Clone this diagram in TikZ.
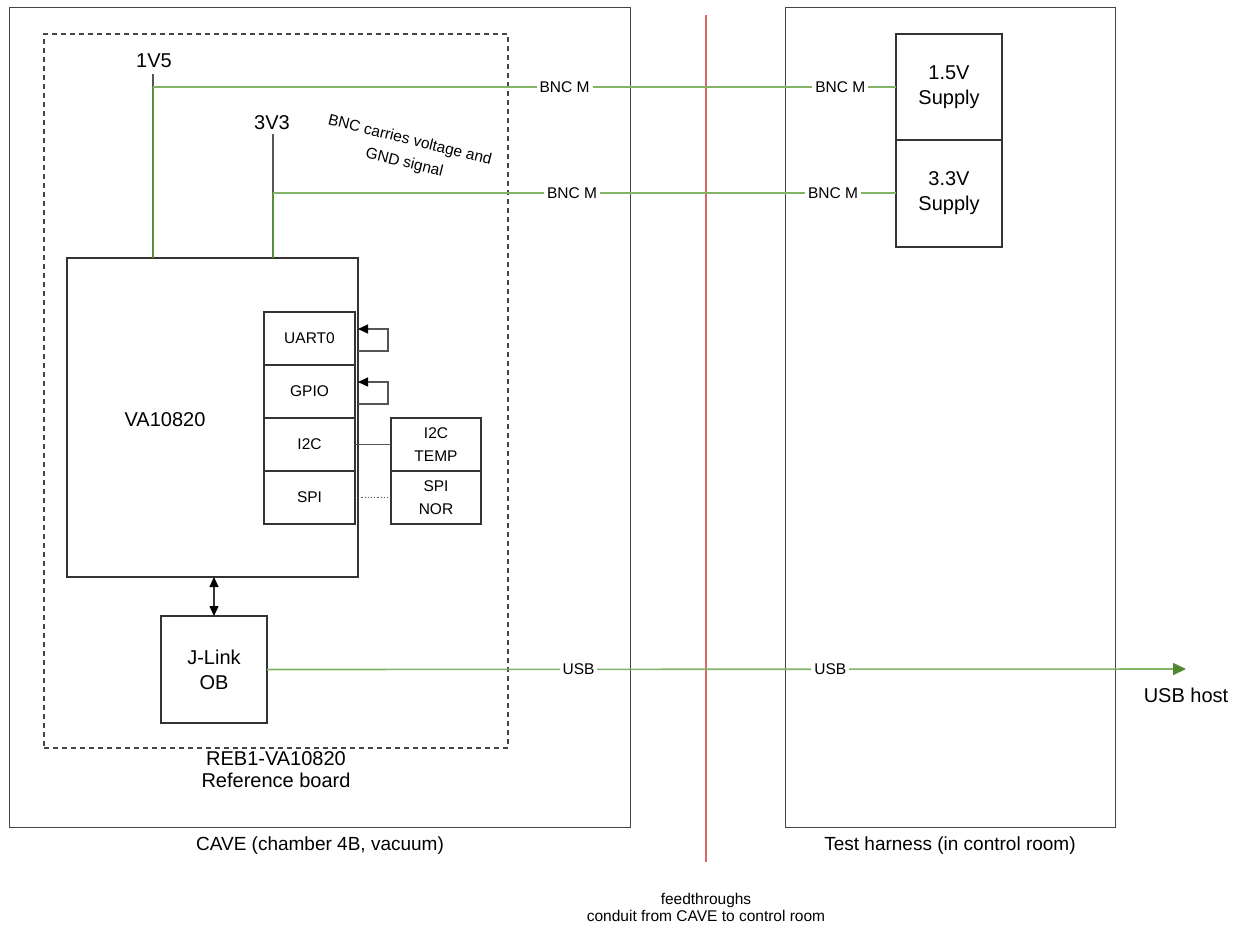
\documentclass[tikz,border=0pt]{standalone}
\usepackage{fontspec}
\setmainfont{Liberation Sans}
\usetikzlibrary{arrows.meta,calc}
\definecolor{boxgray}{HTML}{333333}
\definecolor{regiongray}{HTML}{444444}
\definecolor{lgreen}{HTML}{82B366}
\definecolor{dgreen}{HTML}{4F8A32}
\definecolor{redline}{HTML}{E06666}
\definecolor{stubgray}{HTML}{555555}
\tikzset{
  box/.style={draw=boxgray, line width=1.8pt, inner sep=0pt, outer sep=0pt, align=center, anchor=north west, font=\fontsize{20}{25}\selectfont},
  subbox/.style={box, font=\fontsize{15.5}{22.5}\selectfont},
  region/.style={draw=regiongray, line width=1pt, inner sep=0pt, outer sep=0pt, anchor=north west},
  wire/.style={draw=lgreen, line width=1.6pt},
  rail/.style={draw=dgreen!85!lgreen, line width=2pt},
  stub/.style={draw=stubgray, line width=1.2pt},
  loopline/.style={draw=stubgray, line width=1.2pt},
  looptip/.style={-{Triangle[length=10pt,width=9pt,color=black]}},
  lbl/.style={fill=white, inner sep=3pt, font=\fontsize{15.5}{18}\selectfont},
  big/.style={font=\fontsize{20}{22}\selectfont, align=center, inner sep=0pt},
  mid/.style={font=\fontsize{19}{22}\selectfont, align=center, inner sep=0pt},
  small/.style={font=\fontsize{15.5}{17}\selectfont, align=center, inner sep=0pt},
  note/.style={font=\fontsize{15.5}{23}\selectfont, align=center, inner sep=0pt},
}
\begin{document}
\begin{tikzpicture}[x=1pt,y=-1pt]
\useasboundingbox (0,0) rectangle (1241,930);
% regions
\node[region, minimum width=621pt, minimum height=820pt] (cave) at (9,7) {};
\node[region, minimum width=330pt, minimum height=820pt] (harness) at (785,7) {};
\node[draw=regiongray, line width=1.2pt, dash pattern=on 5pt off 4pt, inner sep=0pt, outer sep=0pt, anchor=north west, minimum width=464pt, minimum height=714pt] (board) at (44,34) {};
% feedthrough line
\coordinate (ftA) at (706,15);
\coordinate (ftB) at (706,862);
\draw[draw=redline, line width=1.5pt] (ftA) -- (ftB);
% main chip
\node[box, minimum width=291pt, minimum height=319pt] (va) at (67,258) {};
\node[big] (valbl) at (165,420) {VA10820};
\node[subbox, minimum width=91pt, minimum height=53pt] (uart) at (264,312) {UART0};
\node[subbox, minimum width=91pt, minimum height=53pt] (gpio) at (264,365) {GPIO};
\node[subbox, minimum width=91pt, minimum height=53pt] (i2c) at (264,418) {I2C};
\node[subbox, minimum width=91pt, minimum height=53pt] (spi) at (264,471) {SPI};
\node[subbox, minimum width=90pt, minimum height=53pt] (temp) at (391,418) {I2C\\TEMP};
\node[subbox, minimum width=90pt, minimum height=53pt] (nor) at (391,471) {SPI\\NOR};
% loops
\draw[loopline, looptip] ($(va.east |- uart.east)+(0,12.5)$) -- ++(30,0) -- ++(0,-22) -- ++(-30,0);
\draw[loopline, looptip] ($(va.east |- gpio.east)+(0,12.5)$) -- ++(30,0) -- ++(0,-22) -- ++(-30,0);
\draw[loopline] (i2c.east) -- (temp.west);
\draw[loopline, dotted, line width=1pt] (spi.east) -- (nor.west);
% J-Link
\node[box, minimum width=106pt, minimum height=107pt] (jl) at (161,616) {J-Link\\OB};
\draw[line width=1.2pt, draw=boxgray, {Triangle[length=10pt,width=9pt,color=black]}-{Triangle[length=10pt,width=9pt,color=black]}] (jl.north |- va.south) -- (jl.north);
% supplies
\node[box, minimum width=106pt, minimum height=106pt] (s15) at (896,34) {1.5V\\Supply};
\node[box, minimum width=106pt, minimum height=107pt] (s33) at (896,140) {3.3V\\Supply};
% power rails
\node[big] (l15) at (154,61) {1V5};
\node[big] (l33) at (272,123) {3V3};
\coordinate (t15) at (153,74);
\coordinate (j15) at (153,87);
\coordinate (t33) at (273,134);
\coordinate (j33) at (273,193);
\draw[stub] (t15) -- (j15);
\draw[stub] (t33) -- (j33);
\draw[rail] (va.north -| j15) -- (j15);
\draw[rail] (va.north -| j33) -- (j33);
\draw[wire] (j15) -- node[lbl, pos=0.554] {BNC M} node[lbl, pos=0.925] {BNC M} (s15.west |- j15);
\draw[wire] (j33) -- node[lbl, pos=0.48] {BNC M} node[lbl, pos=0.899] {BNC M} (s33.west |- j33);
\node[note, rotate=-14] (note) at (407,152) {BNC carries voltage and\\GND signal};
% USB
\coordinate (usbend) at (1186,669);
\draw[wire, -{Triangle[length=13pt,width=12pt,color=dgreen]}] (jl.east) -- node[lbl, pos=0.339] {USB} node[lbl, pos=0.613] {USB} (usbend);
\node[big] (host) at (1186,695) {USB host};
% captions
\node[big] (reb) at (276,770) {REB1-VA10820\\Reference board};
\node[mid] (cavelbl) at (320,846) {CAVE (chamber 4B, vacuum)};
\node[mid] (harnlbl) at (950,846) {Test harness (in control room)};
\node[small] (ftlbl) at (706,907) {feedthroughs\\conduit from CAVE to control room};
\end{tikzpicture}
\end{document}
